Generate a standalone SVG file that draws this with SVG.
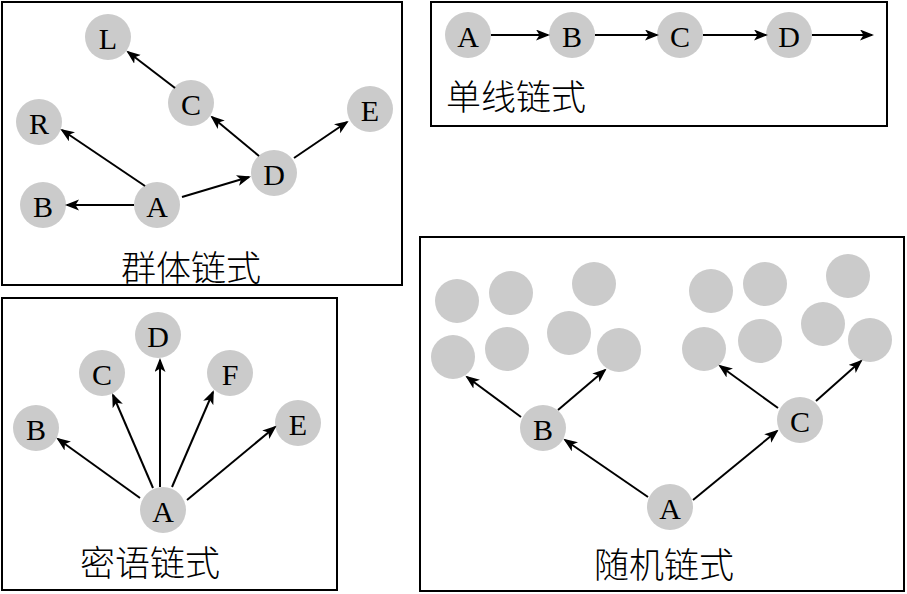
<svg xmlns="http://www.w3.org/2000/svg" width="907" height="594" viewBox="0 0 907 594">
<defs>
<marker id="ah" markerUnits="userSpaceOnUse" markerWidth="16" markerHeight="12" refX="12" refY="5.5" orient="auto">
<path d="M0,0 L14,5.5 L0,11 L3.5,5.5 z" fill="#000"/>
</marker>
<style>
.panel{fill:#fff;stroke:#000;stroke-width:2}
.n{fill:#cbcbcb}
.t{font-family:"Liberation Serif","DejaVu Serif",serif;font-size:30px;fill:#000;text-anchor:middle;dominant-baseline:central}
.cap{font-family:"Noto Sans CJK SC","Noto Sans CJK JP",sans-serif;font-size:35px;font-weight:300;fill:#000;text-anchor:middle;dominant-baseline:central}
.e{stroke:#000;stroke-width:2;fill:none;marker-end:url(#ah)}
</style>
</defs>
<rect width="907" height="594" fill="#fff"/>

<!-- Panel 1: 群体链式 -->
<rect class="panel" x="2" y="2" width="400" height="283"/>
<g id="p1-L"><circle class="n" cx="108" cy="37" r="23"/><text class="t" x="108" y="38">L</text></g>
<g id="p1-C"><circle class="n" cx="191" cy="103" r="23"/><text class="t" x="191" y="104">C</text></g>
<g id="p1-R"><circle class="n" cx="39" cy="122" r="23"/><text class="t" x="39" y="123">R</text></g>
<g id="p1-E"><circle class="n" cx="370" cy="109" r="23"/><text class="t" x="370" y="110">E</text></g>
<g id="p1-D"><circle class="n" cx="274" cy="173" r="23"/><text class="t" x="274" y="174">D</text></g>
<g id="p1-B"><circle class="n" cx="43" cy="205" r="23"/><text class="t" x="43" y="206">B</text></g>
<g id="p1-A"><circle class="n" cx="157" cy="205" r="23"/><text class="t" x="157" y="206">A</text></g>
<text class="cap" x="191" y="265">群体链式</text>

<!-- Panel 2: 单线链式 -->
<rect class="panel" x="431" y="2" width="456" height="124"/>
<g id="p2-A"><circle class="n" cx="468" cy="35" r="23"/><text class="t" x="468" y="36">A</text></g>
<g id="p2-B"><circle class="n" cx="572" cy="35" r="23"/><text class="t" x="572" y="36">B</text></g>
<g id="p2-C"><circle class="n" cx="680" cy="35" r="23"/><text class="t" x="680" y="36">C</text></g>
<g id="p2-D"><circle class="n" cx="789" cy="35" r="23"/><text class="t" x="789" y="36">D</text></g>
<text class="cap" x="516" y="94">单线链式</text>

<!-- Panel 3: 密语链式 -->
<rect class="panel" x="2" y="298" width="335" height="292"/>
<g id="p3-D"><circle class="n" cx="158" cy="335" r="23"/><text class="t" x="158" y="336">D</text></g>
<g id="p3-C"><circle class="n" cx="102" cy="373" r="23"/><text class="t" x="102" y="374">C</text></g>
<g id="p3-F"><circle class="n" cx="230" cy="373" r="23"/><text class="t" x="230" y="374">F</text></g>
<g id="p3-B"><circle class="n" cx="36" cy="428" r="23"/><text class="t" x="36" y="429">B</text></g>
<g id="p3-E"><circle class="n" cx="298" cy="423" r="23"/><text class="t" x="298" y="424">E</text></g>
<g id="p3-A"><circle class="n" cx="163" cy="510" r="23"/><text class="t" x="163" y="511">A</text></g>
<text class="cap" x="150" y="560">密语链式</text>

<!-- Panel 4: 随机链式 -->
<rect class="panel" x="420" y="237" width="484" height="354"/>
<g id="p4-dots">
<circle class="n" cx="457" cy="301" r="22"/>
<circle class="n" cx="511" cy="293" r="22"/>
<circle class="n" cx="594" cy="284" r="22"/>
<circle class="n" cx="453" cy="357" r="22"/>
<circle class="n" cx="507" cy="349" r="22"/>
<circle class="n" cx="569" cy="333" r="22"/>
<circle class="n" cx="619" cy="350" r="22"/>
<circle class="n" cx="711" cy="291" r="22"/>
<circle class="n" cx="765" cy="284" r="22"/>
<circle class="n" cx="848" cy="276" r="22"/>
<circle class="n" cx="704" cy="349" r="22"/>
<circle class="n" cx="760" cy="341" r="22"/>
<circle class="n" cx="823" cy="324" r="22"/>
<circle class="n" cx="870" cy="340" r="22"/>
</g>
<g id="p4-B"><circle class="n" cx="543" cy="428" r="23"/><text class="t" x="543" y="429">B</text></g>
<g id="p4-C"><circle class="n" cx="800" cy="420" r="23"/><text class="t" x="800" y="421">C</text></g>
<g id="p4-A"><circle class="n" cx="670" cy="507" r="23"/><text class="t" x="670" y="508">A</text></g>
<text class="cap" x="664" y="562">随机链式</text>

<g id="connectors">
<!-- panel 1 -->
<line class="e" x1="134" y1="205" x2="67" y2="205"/>
<line class="e" x1="145" y1="186" x2="62" y2="130"/>
<line class="e" x1="182" y1="197" x2="249" y2="177"/>
<line class="e" x1="259" y1="156" x2="212" y2="117"/>
<line class="e" x1="175" y1="88" x2="128" y2="52"/>
<line class="e" x1="294" y1="158" x2="347" y2="122"/>
<!-- panel 2 -->
<line class="e" x1="491" y1="35" x2="548" y2="35"/>
<line class="e" x1="595" y1="35" x2="657" y2="35"/>
<line class="e" x1="703" y1="35" x2="766" y2="35"/>
<line class="e" x1="812" y1="35" x2="872" y2="35"/>
<!-- panel 3 -->
<line class="e" x1="140" y1="498" x2="58" y2="439"/>
<line class="e" x1="153" y1="488" x2="113" y2="395"/>
<line class="e" x1="160" y1="487" x2="160" y2="360"/>
<line class="e" x1="172" y1="487" x2="213" y2="392"/>
<line class="e" x1="187" y1="500" x2="275" y2="427"/>
<!-- panel 4 -->
<line class="e" x1="648" y1="497" x2="565" y2="440"/>
<line class="e" x1="693" y1="500" x2="777" y2="431"/>
<line class="e" x1="521" y1="417" x2="467" y2="377"/>
<line class="e" x1="558" y1="410" x2="605" y2="370"/>
<line class="e" x1="778" y1="408" x2="720" y2="366"/>
<line class="e" x1="816" y1="401" x2="861" y2="361"/>
</g>
</svg>
